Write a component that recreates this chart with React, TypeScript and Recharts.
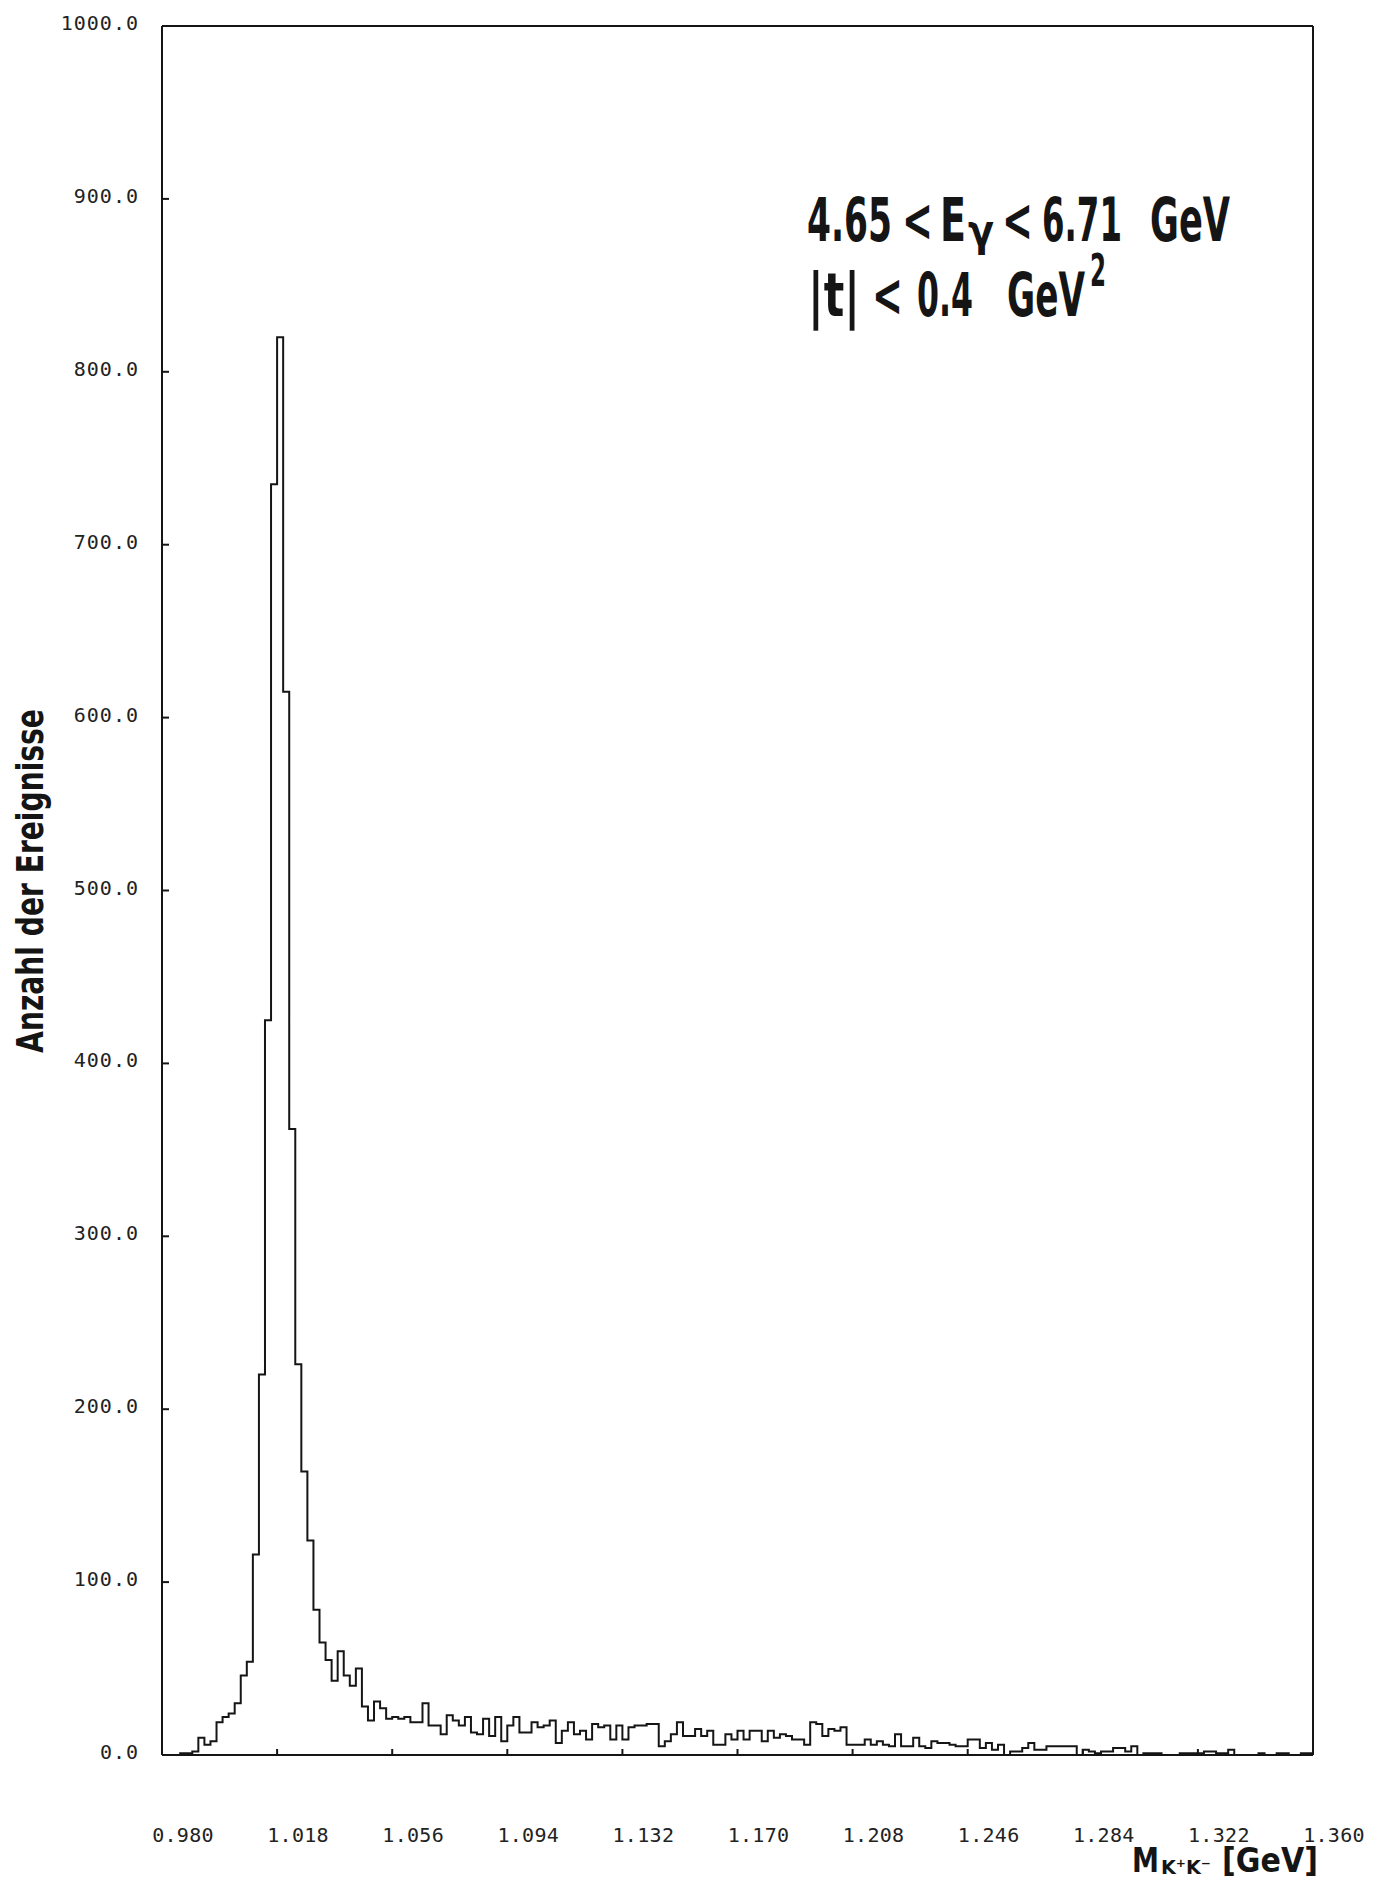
import React, { useLayoutEffect, useRef, useState } from 'react';
import { ComposedChart, Line, XAxis, YAxis } from 'recharts';

// K+K- invariant mass histogram, 2 MeV bins starting at 0.980 GeV
const BIN_START = 0.98;
const BIN_WIDTH = 0.002;

const counts: number[] = [
  0, 0, 0, 1, 1, 2, 10, 6, 8, 19,
  22, 24, 30, 46, 54, 116, 220, 425, 735, 820,
  615, 362, 226, 164, 124, 84, 65, 55, 43, 60,
  46, 40, 50, 28, 20, 31, 27, 21, 22, 21,
  22, 19, 19, 30, 17, 17, 12, 23, 20, 17,
  22, 13, 12, 21, 11, 22, 8, 17, 22, 13,
  13, 19, 16, 17, 20, 7, 14, 19, 12, 14,
  9, 18, 16, 17, 9, 17, 9, 16, 17, 17,
  18, 18, 5, 8, 12, 19, 11, 11, 15, 11,
  14, 6, 6, 12, 9, 14, 9, 14, 14, 8,
  14, 10, 12, 11, 9, 9, 6, 19, 18, 11,
  15, 14, 16, 6, 6, 6, 9, 6, 8, 6,
  5, 12, 5, 5, 10, 5, 4, 8, 7, 7,
  6, 5, 5, 9, 9, 4, 7, 3, 6, 0,
  2, 2, 4, 7, 3, 3, 5, 5, 5, 5,
  5, 0, 3, 2, 1, 2, 2, 4, 4, 2,
  5, 0, 1, 1, 1, 0, 0, 0, 1, 1,
  1, 1, 2, 2, 1, 1, 3, 0, 0, 0,
  0, 1, 0, 0, 1, 1, 0, 0, 1, 1,
];

const massTicks = [0.98, 1.018, 1.056, 1.094, 1.132, 1.17, 1.208, 1.246, 1.284, 1.322, 1.36];
const massTickLabels = ['0.980', '1.018', '1.056', '1.094', '1.132', '1.170', '1.208', '1.246', '1.284', '1.322', '1.360'];
const countTicks = [0, 100, 200, 300, 400, 500, 600, 700, 800, 900, 1000];
const countTickLabels = ['0.0', '100.0', '200.0', '300.0', '400.0', '500.0', '600.0', '700.0', '800.0', '900.0', '1000.0'];

// one point per lower bin edge, plus the closing edge so the last step is drawn
const histData = counts.map((n, i) => ({ m: +(BIN_START + i * BIN_WIDTH).toFixed(4), n }));
histData.push({ m: +(BIN_START + counts.length * BIN_WIDTH).toFixed(4), n: counts[counts.length - 1] });

const CHART_W = 1381;
const CHART_H = 1881;
// axes are 1px thick bands; the plot box runs from x 163..1312, y 27..1754
const margin = { top: 26, right: 68, bottom: 126, left: 162 };
const PLOT_LEFT = 163;
const PLOT_BOTTOM = 1754;

const INK = '#151515';
const monoFont = "'DejaVu Sans Mono', 'Liberation Mono', monospace";
const titleFont = "'DejaVu Sans', 'Liberation Sans', sans-serif";

const MassTick = (props: any) => {
  const { x, index } = props;
  return (
    <text x={x + 21} y={PLOT_BOTTOM + 81} textAnchor="middle" dominantBaseline="central"
      fontFamily={monoFont} fontSize={20} letterSpacing={0.3} fill="#222">
      {massTickLabels[index]}
    </text>
  );
};

const CountTick = (props: any) => {
  const { y, index } = props;
  return (
    <text x={PLOT_LEFT - 24} y={y - 3} textAnchor="end" dominantBaseline="central"
      fontFamily={monoFont} fontSize={20} letterSpacing={1} fill="#222">
      {countTickLabels[index]}
    </text>
  );
};

// bold lettering squeezed horizontally to a given width
const FitText = ({ x, y, w, size, rotate = 0, anchor = 'start', children }:
  { x: number; y: number; w: number; size: number; rotate?: number; anchor?: string; children: React.ReactNode }) => {
  const ref = useRef<SVGTextElement>(null);
  const [sx, setSx] = useState(1);
  useLayoutEffect(() => {
    const el = ref.current;
    if (!el) return;
    const natural = el.getComputedTextLength();
    if (natural > 0) setSx(w / natural);
  }, [w]);
  return (
    <text ref={ref} transform={`translate(${x} ${y}) rotate(${rotate}) scale(${sx} 1)`}
      textAnchor={anchor as any} fontFamily={titleFont} fontWeight="bold" fontSize={size} fill={INK}>
      {children}
    </text>
  );
};

const frameLine = { stroke: INK, strokeWidth: 2 };

export default function App() {
  return (
    <div style={{ position: 'absolute', left: 0, top: 0, width: CHART_W, height: CHART_H, background: '#fff' }}>
      <ComposedChart width={CHART_W} height={CHART_H} data={histData} margin={margin}>
        <XAxis dataKey="m" type="number" domain={[0.98, 1.36]} ticks={massTicks} interval={0}
          allowDataOverflow mirror height={1} tickSize={6}
          axisLine={frameLine} tickLine={frameLine} tick={<MassTick />} />
        <XAxis xAxisId="top" orientation="top" type="number" domain={[0.98, 1.36]} ticks={massTicks}
          interval={0} allowDataOverflow mirror height={1} tickSize={6}
          axisLine={frameLine} tickLine={frameLine} tick={false} />
        <YAxis type="number" domain={[0, 1000]} ticks={countTicks} interval={0}
          allowDataOverflow mirror width={1} tickSize={7}
          axisLine={frameLine} tickLine={frameLine} tick={<CountTick />} />
        <YAxis yAxisId="right" orientation="right" type="number" domain={[0, 1000]} ticks={countTicks}
          interval={0} allowDataOverflow mirror width={1} tickSize={7}
          axisLine={frameLine} tickLine={frameLine} tick={false} />
        <Line dataKey="n" type="stepAfter" stroke={INK} strokeWidth={2} dot={false}
          isAnimationActive={false} />
      </ComposedChart>

      <svg width={CHART_W} height={CHART_H}
        style={{ position: 'absolute', left: 0, top: 0, pointerEvents: 'none' }}>
        {/* cut annotation */}
        <FitText x={807} y={241} w={85} size={60}>4.65</FitText>
        <FitText x={902} y={241} w={31} size={60}>&lt;</FitText>
        <FitText x={940} y={241} w={26} size={60}>E</FitText>
        <FitText x={968} y={246} w={26} size={44}>γ</FitText>
        <FitText x={1002} y={241} w={31} size={60}>&lt;</FitText>
        <FitText x={1042} y={241} w={80} size={60}>6.71</FitText>
        <FitText x={1150} y={241} w={80} size={60}>GeV</FitText>

        <FitText x={808} y={316} w={52} size={60}>|t|</FitText>
        <FitText x={872} y={316} w={31} size={60}>&lt;</FitText>
        <FitText x={917} y={316} w={56} size={60}>0.4</FitText>
        <FitText x={1007} y={316} w={78} size={60}>GeV</FitText>
        <FitText x={1090} y={286} w={16} size={44}>2</FitText>

        {/* axis titles */}
        <FitText x={43} y={881} w={344} size={37} rotate={-90} anchor="middle">Anzahl der Ereignisse</FitText>
        <FitText x={1132} y={1872} w={27} size={34}>M</FitText>
        <FitText x={1161} y={1874} w={50} size={20}>K⁺K⁻</FitText>
        <FitText x={1222} y={1872} w={96} size={34}>[GeV]</FitText>
      </svg>
    </div>
  );
}
